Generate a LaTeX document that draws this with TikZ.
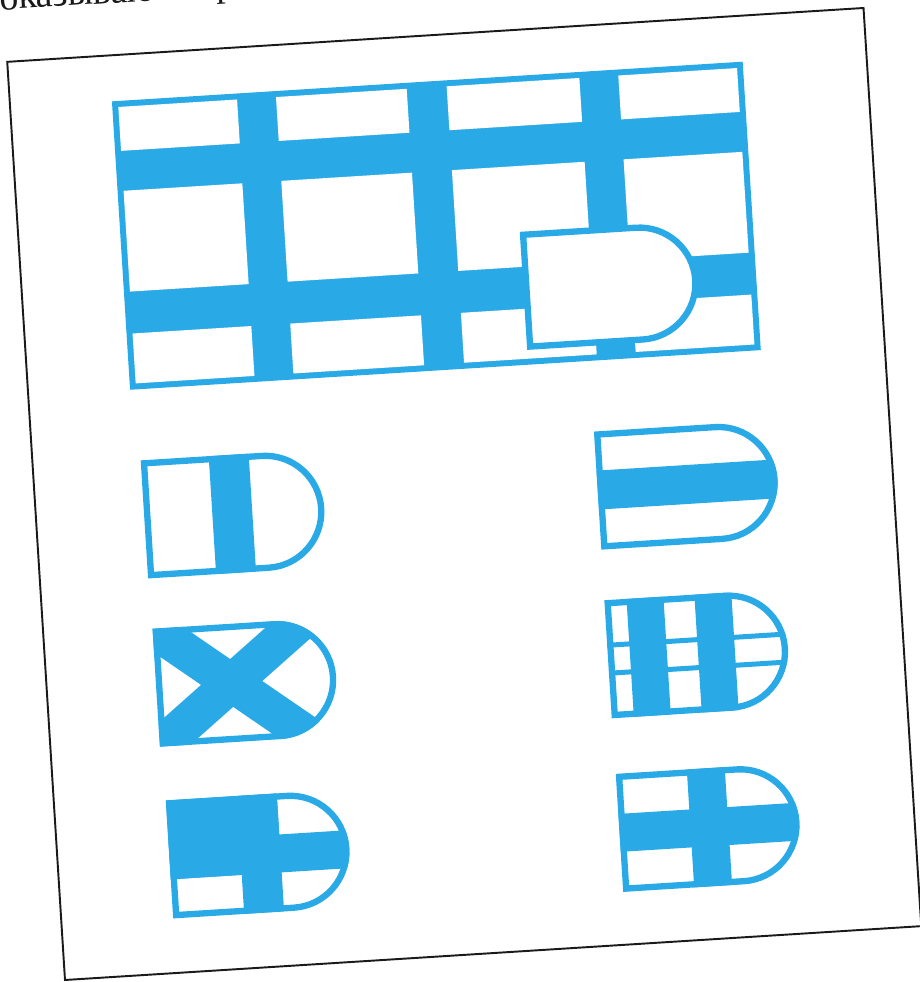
\documentclass[tikz,border=0pt]{standalone}
\usepackage{fontspec}
\setmainfont{Liberation Serif}
\definecolor{ink}{HTML}{1A1A1A}
\definecolor{flagblue}{HTML}{29A9E6}
\definecolor{paper}{HTML}{FFFFFF}
\tikzset{
  pageframe/.style={draw=ink,line width=1.1pt},
  flagline/.style={draw=flagblue,line width=3.6pt,line join=miter},
  xband/.style={draw=flagblue,line width=21.5pt},
  pagetext/.style={font=\fontsize{21.5}{25}\selectfont,inner sep=0pt,anchor=base west,text=ink}
}
% outline of one D-shaped flag (outer edge 121 + radius 59, height 118)
\newcommand\dshape{(3,3) -- (121,3) arc[start angle=-90,end angle=90,radius=56] -- (3,115) -- cycle}
\newcommand\dclip{(0,0) -- (121,0) arc[start angle=-90,end angle=90,radius=59] -- (0,118) -- cycle}

\begin{document}
\begin{tikzpicture}[x=0.02cm,y=0.02cm]
  \useasboundingbox (0,0) rectangle (919,982);
  \begin{scope}[shift={(65,2)},rotate=3.6]
    \node[pagetext,rotate=3.6] (headline) at (-4,972) {оказываются р};
    \draw[pageframe] (0,0) rectangle (858,920);

    % big grid with the D on top
    \fill[flagblue] (102,585) rectangle (734,874);
    \foreach \ua/\ub in {108/227,266/397,437/570,609/728}
      \foreach \va/\vb in {591/641,683/784,824/868}
        \fill[paper] (\ua,\va) rectangle (\ub,\vb);
    \filldraw[flagline,fill=paper] (504,603) -- (617,603) arc[start angle=-90,end angle=90,radius=56] -- (504,715) -- cycle;

    % left column
    \begin{scope}[shift={(108.3,395.7)}]
      \begin{scope} \clip \dclip; \fill[flagblue] (68,0) rectangle (108,118); \end{scope}
      \draw[flagline] \dshape;
    \end{scope}
    \begin{scope}[shift={(109.5,227)}]
      \begin{scope} \clip \dclip;
        \draw[xband] (-40,149.3) -- (191,-31.3); \draw[xband] (-40,-31.3) -- (191,149.3);
      \end{scope}
      \draw[flagline] \dshape;
    \end{scope}
    \begin{scope}[shift={(112,54.8)}]
      \begin{scope} \clip \dclip;
        \fill[flagblue] (0,39) rectangle (111,118); \fill[flagblue] (0,39) rectangle (190,77); \fill[flagblue] (71,0) rectangle (111,118);
      \end{scope}
      \draw[flagline] \dshape;
    \end{scope}

    % right column
    \begin{scope}[shift={(562.5,396)}]
      \begin{scope} \clip \dclip; \fill[flagblue] (0,40) rectangle (190,79); \end{scope}
      \draw[flagline] \dshape;
    \end{scope}
    \begin{scope}[shift={(562.3,227)}]
      \begin{scope} \clip \dclip;
        \fill[flagblue] (22,0) rectangle (59,118); \fill[flagblue] (90,0) rectangle (127,118);
        \fill[flagblue] (0,42.5) rectangle (190,47.5); \fill[flagblue] (0,70.5) rectangle (190,75.5);
      \end{scope}
      \draw[flagline] \dshape;
    \end{scope}
    \begin{scope}[shift={(562.8,53)}]
      \begin{scope} \clip \dclip;
        \fill[flagblue] (71,0) rectangle (109,118); \fill[flagblue] (0,40) rectangle (190,78);
      \end{scope}
      \draw[flagline] \dshape;
    \end{scope}
  \end{scope}
\end{tikzpicture}
\end{document}
